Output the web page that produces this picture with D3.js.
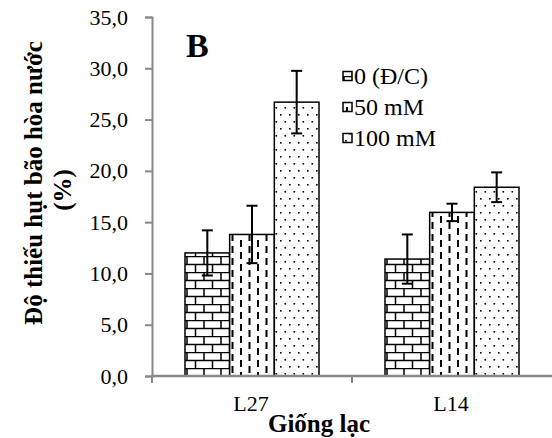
<!DOCTYPE html>
<html>
<head>
<meta charset="utf-8">
<script src="https://cdn.jsdelivr.net/npm/d3@7"></script>
<style>
  body { margin: 0; background: #fff; }
  svg { display: block; font-family: "Liberation Serif", "Times New Roman", serif; }
</style>
</head>
<body>
<div id="chart"></div>
<script>
// data
const varieties = ['L27', 'L14'];
const treatments = ['0 (Đ/C)', '50 mM', '100 mM'];
const meanL27 = [12.0, 13.8, 26.7];
const meanL14 = [11.4, 15.95, 18.4];
const errL27 = [2.2, 2.8, 3.05];
const errL14 = [2.4, 0.85, 1.45];
const yTicks = [0, 5, 10, 15, 20, 25, 30, 35];

const W = 552, H = 438;
const svg = d3.select('#chart').append('svg')
  .attr('width', W).attr('height', H);

const defs = svg.append('defs');

// brick pattern (0 / control)
const brick = defs.append('pattern')
  .attr('id', 'brick').attr('patternUnits', 'userSpaceOnUse')
  .attr('width', 34).attr('height', 16);
brick.append('rect').attr('width', 34).attr('height', 16).attr('fill', '#fff');
brick.append('path')
  .attr('d', 'M0,0.5H34M0,8.5H34M1,0V8.5M18,0V8.5M9.5,8.5V16M26.5,8.5V16')
  .attr('stroke', '#000').attr('stroke-width', 1.5).attr('fill', 'none');

// vertical dashes (50 mM)
const dash = defs.append('pattern')
  .attr('id', 'dash').attr('patternUnits', 'userSpaceOnUse')
  .attr('width', 17).attr('height', 12);
dash.append('rect').attr('width', 17).attr('height', 12).attr('fill', '#fff');
dash.append('path')
  .attr('d', 'M4,0V7M12.5,6V12M12.5,0V1')
  .attr('stroke', '#000').attr('stroke-width', 2).attr('fill', 'none');

// dots (100 mM)
const dots = defs.append('pattern')
  .attr('id', 'dots').attr('patternUnits', 'userSpaceOnUse')
  .attr('width', 9).attr('height', 14);
dots.append('rect').attr('width', 9).attr('height', 14).attr('fill', '#fff');
dots.append('rect').attr('x', 2).attr('y', 2).attr('width', 1.6).attr('height', 1.6).attr('fill', '#000');
dots.append('rect').attr('x', 6.5).attr('y', 9).attr('width', 1.6).attr('height', 1.6).attr('fill', '#000');

const fills = ['url(#brick)', 'url(#dash)', 'url(#dots)'];

const x = d3.scaleBand().domain(varieties).range([152, 552]).padding(0);
const xs = d3.scaleBand().domain(d3.range(treatments.length)).range([33, 167]).padding(0);
const y = d3.scaleLinear().domain([0, 35]).range([376, 17]);

const rows = varieties.map((v, i) => ({
  name: v,
  means: i === 0 ? meanL27 : meanL14,
  errs: i === 0 ? errL27 : errL14
}));

// bars
const groups = svg.selectAll('g.grp').data(rows).enter().append('g')
  .attr('class', 'grp')
  .attr('transform', d => `translate(${x(d.name)},0)`);

groups.selectAll('rect.bar')
  .data(d => d.means.map((m, k) => ({ m, k, e: d.errs[k] })))
  .enter().append('rect')
  .attr('class', 'bar')
  .attr('x', d => xs(d.k))
  .attr('y', d => y(d.m))
  .attr('width', xs.bandwidth())
  .attr('height', d => y(0) - y(d.m))
  .attr('fill', d => fills[d.k])
  .attr('stroke', '#000').attr('stroke-width', 1.5);

// error bars
const eb = groups.selectAll('g.err')
  .data(d => d.means.map((m, k) => ({ m, k, e: d.errs[k] })))
  .enter().append('g').attr('class', 'err')
  .attr('stroke', '#000').attr('stroke-width', 2);
eb.append('line')
  .attr('x1', d => xs(d.k) + xs.bandwidth() / 2)
  .attr('x2', d => xs(d.k) + xs.bandwidth() / 2)
  .attr('y1', d => y(d.m + d.e)).attr('y2', d => y(d.m - d.e));
eb.append('line')
  .attr('x1', d => xs(d.k) + xs.bandwidth() / 2 - 5.5)
  .attr('x2', d => xs(d.k) + xs.bandwidth() / 2 + 5.5)
  .attr('y1', d => y(d.m + d.e)).attr('y2', d => y(d.m + d.e));
eb.append('line')
  .attr('x1', d => xs(d.k) + xs.bandwidth() / 2 - 5.5)
  .attr('x2', d => xs(d.k) + xs.bandwidth() / 2 + 5.5)
  .attr('y1', d => y(d.m - d.e)).attr('y2', d => y(d.m - d.e));

// y axis
const yAxis = svg.append('g')
  .attr('transform', 'translate(152,0)')
  .call(d3.axisLeft(y).tickValues(yTicks).tickSize(7).tickPadding(17)
    .tickFormat(d => d3.format('.1f')(d).replace('.', ',')));
yAxis.select('.domain').attr('stroke', '#888').attr('stroke-width', 2);
yAxis.selectAll('.tick line').attr('stroke', '#888').attr('stroke-width', 2);
yAxis.selectAll('.tick text').attr('font-size', 22).attr('fill', '#000')
  .attr('font-family', '"Liberation Serif", serif');

// x axis
const xAxis = svg.append('g')
  .attr('transform', 'translate(0,376)');
xAxis.append('line').attr('x1', 151).attr('x2', 552).attr('y1', 0).attr('y2', 0)
  .attr('stroke', '#888').attr('stroke-width', 2.5);
xAxis.selectAll('line.tk').data(varieties).enter().append('line')
  .attr('class', 'tk')
  .attr('x1', d => x(d)).attr('x2', d => x(d))
  .attr('y1', 0).attr('y2', 7)
  .attr('stroke', '#888').attr('stroke-width', 2);
xAxis.selectAll('text').data(varieties).enter().append('text')
  .attr('x', d => x(d) + x.bandwidth() / 2 - 1)
  .attr('y', 35)
  .attr('text-anchor', 'middle')
  .attr('font-size', 22)
  .text(d => d);

// axis titles
svg.append('text')
  .attr('x', 319).attr('y', 432)
  .attr('text-anchor', 'middle')
  .attr('font-size', 25).attr('font-weight', 'bold')
  .text('Giống lạc');

const yt = svg.append('g').attr('font-size', 25).attr('font-weight', 'bold')
  .attr('text-anchor', 'middle');
yt.append('text').attr('transform', 'translate(42,183) rotate(-90)')
  .text('Độ thiếu hụt bão hòa nước');
yt.append('text').attr('transform', 'translate(71,190) rotate(-90)')
  .text('(%)');

// panel letter
svg.append('text')
  .attr('x', 186).attr('y', 57)
  .attr('font-size', 34).attr('font-weight', 'bold')
  .text('B');

// legend
const legend = svg.append('g').attr('transform', 'translate(343,76)');
const li = legend.selectAll('g').data(treatments).enter().append('g')
  .attr('transform', (d, i) => `translate(0,${i * 31})`);
li.append('rect')
  .attr('x', 0).attr('y', -4.5).attr('width', 9).attr('height', 9)
  .attr('fill', (d, i) => fills[i])
  .attr('stroke', '#000').attr('stroke-width', 1.5);
li.append('text')
  .attr('x', 11).attr('y', 8)
  .attr('font-size', 24)
  .text(d => d);
</script>
</body>
</html>
